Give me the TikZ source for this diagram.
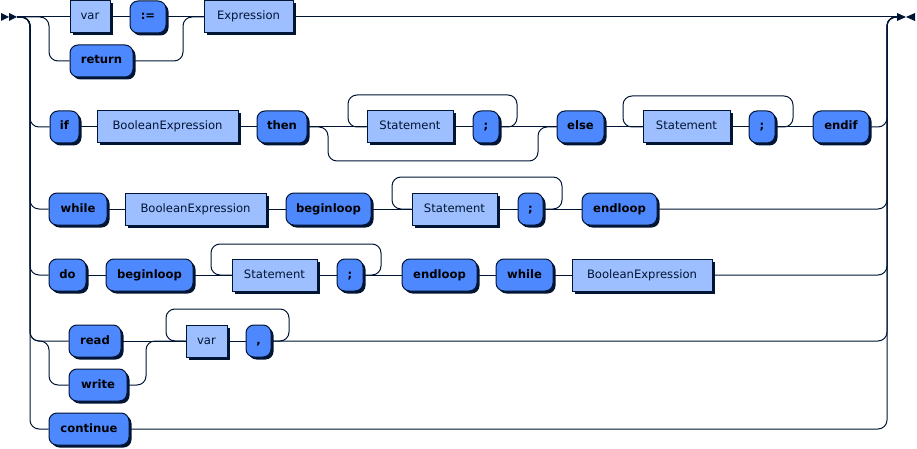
\documentclass[tikz,border=0pt]{standalone}
\usepackage{fontspec}
\setmainfont{DejaVu Sans}
\usetikzlibrary{shadows}

\definecolor{rrline}{RGB}{0,20,51}
\definecolor{termfill}{RGB}{77,136,255}
\definecolor{ntfill}{RGB}{158,191,255}

\tikzset{
  box/.style={draw=rrline, line width=1pt, minimum height=32pt, inner sep=0pt,
    text height=8.5pt, text depth=2.5pt, font=\fontsize{11.6}{14}\selectfont,
    drop shadow={shadow xshift=2.5pt, shadow yshift=-2.5pt, fill=rrline, opacity=1}},
  term/.style={box, fill=termfill, rounded corners=8pt, text=black,
    font=\fontsize{11.6}{14}\selectfont\bfseries},
  nonterm/.style={box, fill=ntfill, text=rrline},
  rr/.style={draw=rrline, line width=1pt, rounded corners=9pt},
  marker/.style={fill=rrline, draw=none}
}

\begin{document}
\begin{tikzpicture}[x=1pt,y=-1pt]
    \useasboundingbox (0,0) rectangle (917,449);

    % start and end
    \fill[marker] (1,13) -- (9,17) -- (1,21) -- cycle;
    \fill[marker] (9,13) -- (17,17) -- (9,21) -- cycle;
    \fill[marker] (897,13) -- (906,17) -- (897,21) -- cycle;
    \fill[marker] (915,13) -- (906,17) -- (915,21) -- cycle;
    \coordinate (start) at (17,17);
    \coordinate (fin) at (897,17);

    % var := / return
    \node[nonterm, minimum width=40pt] (var1) at (90,17) {var};
    \node[term, minimum width=36pt] (assign) at (148,17) {:=};
    \node[term, minimum width=63pt] (ret) at (101.5,61) {return};
    \node[nonterm, minimum width=89pt] (expr) at (248.5,17) {Expression};

    % if
    \node[term, minimum width=29pt] (if) at (64.5,127) {if};
    \node[nonterm, minimum width=141pt] (bexp1) at (167.5,127) {BooleanExpression};
    \node[term, minimum width=50pt] (then) at (282,127) {then};
    \node[nonterm, minimum width=86pt] (stmt1) at (410,127) {Statement};
    \node[term, minimum width=26pt] (semi1) at (486,127) {;};
    \node[term, minimum width=47pt] (else) at (580.5,127) {else};
    \node[nonterm, minimum width=87pt] (stmt2) at (686.5,127) {Statement};
    \node[term, minimum width=26pt] (semi2) at (762,127) {;};
    \node[term, minimum width=56pt] (endif) at (841,127) {endif};

    % while
    \node[term, minimum width=58pt] (while1) at (78,209) {while};
    \node[nonterm, minimum width=141pt] (bexp2) at (195.5,209) {BooleanExpression};
    \node[term, minimum width=85pt] (bl1) at (328.5,209) {beginloop};
    \node[nonterm, minimum width=85pt] (stmt3) at (454.5,209) {Statement};
    \node[term, minimum width=25pt] (semi3) at (530.5,209) {;};
    \node[term, minimum width=75pt] (el1) at (619.5,209) {endloop};

    % do
    \node[term, minimum width=37pt] (do) at (67.5,275) {do};
    \node[term, minimum width=87pt] (bl2) at (149.5,275) {beginloop};
    \node[nonterm, minimum width=85pt] (stmt4) at (274.5,275) {Statement};
    \node[term, minimum width=26pt] (semi4) at (350,275) {;};
    \node[term, minimum width=75pt] (el2) at (439.5,275) {endloop};
    \node[term, minimum width=57pt] (while2) at (524.5,275) {while};
    \node[nonterm, minimum width=140pt] (bexp3) at (642,275) {BooleanExpression};

    % read / write
    \node[term, minimum width=52pt] (read) at (95,341) {read};
    \node[term, minimum width=58pt] (write) at (98,385) {write};
    \node[nonterm, minimum width=41pt] (var2) at (206.5,341) {var};
    \node[term, minimum width=25pt] (comma) at (258.5,341) {,};

    % continue
    \node[term, minimum width=80pt] (cont) at (89,429) {continue};

    % row 1
    \draw[rr] (start) -- (var1) -- (assign) -- (expr) -- (fin);
    \draw[rr] (start) -| (49,61) -- (ret.west);
    \draw[rr] (ret.east) -| (183,17) -- (expr.west);

    % row 2
    \draw[rr] (start) -| (30,127) -- (if.west);
    \draw[rr] (if) -- (bexp1) -- (then) -- (stmt1) -- (semi1) -- (else) -- (stmt2) -- (semi2) -- (endif);
    \draw[rr] (semi1.east) -| (517,95) -| (348,127) -- (stmt1.west);
    \draw[rr] (then.east) -| (328,161) -| (538,127) -- (else.west);
    \draw[rr] (semi2.east) -| (793,96) -| (623,127) -- (stmt2.west);
    \draw[rr] (endif.east) -| (887,17) -- (fin);

    % row 3
    \draw[rr] (start) -| (30,209) -- (while1.west);
    \draw[rr] (while1) -- (bexp2) -- (bl1) -- (stmt3) -- (semi3) -- (el1);
    \draw[rr] (semi3.east) -| (562,177) -| (392,209) -- (stmt3.west);
    \draw[rr] (el1.east) -| (887,17) -- (fin);

    % row 4
    \draw[rr] (start) -| (30,275) -- (do.west);
    \draw[rr] (do) -- (bl2) -- (stmt4) -- (semi4) -- (el2) -- (while2) -- (bexp3);
    \draw[rr] (semi4.east) -| (381,244) -| (211,275) -- (stmt4.west);
    \draw[rr] (bexp3.east) -| (887,17) -- (fin);

    % row 5
    \draw[rr] (start) -| (30,341) -- (read.west);
    \draw[rr] (start) -| (30,341) -| (49,385) -- (write.west);
    \draw[rr] (read) -- (var2) -- (comma);
    \draw[rr] (write.east) -| (146,341) -- (var2.west);
    \draw[rr] (comma.east) -| (289,309) -| (166,341) -- (var2.west);
    \draw[rr] (comma.east) -| (887,17) -- (fin);

    % row 6
    \draw[rr] (start) -| (30,429) -- (cont.west);
    \draw[rr] (cont.east) -| (887,17) -- (fin);
\end{tikzpicture}
\end{document}
